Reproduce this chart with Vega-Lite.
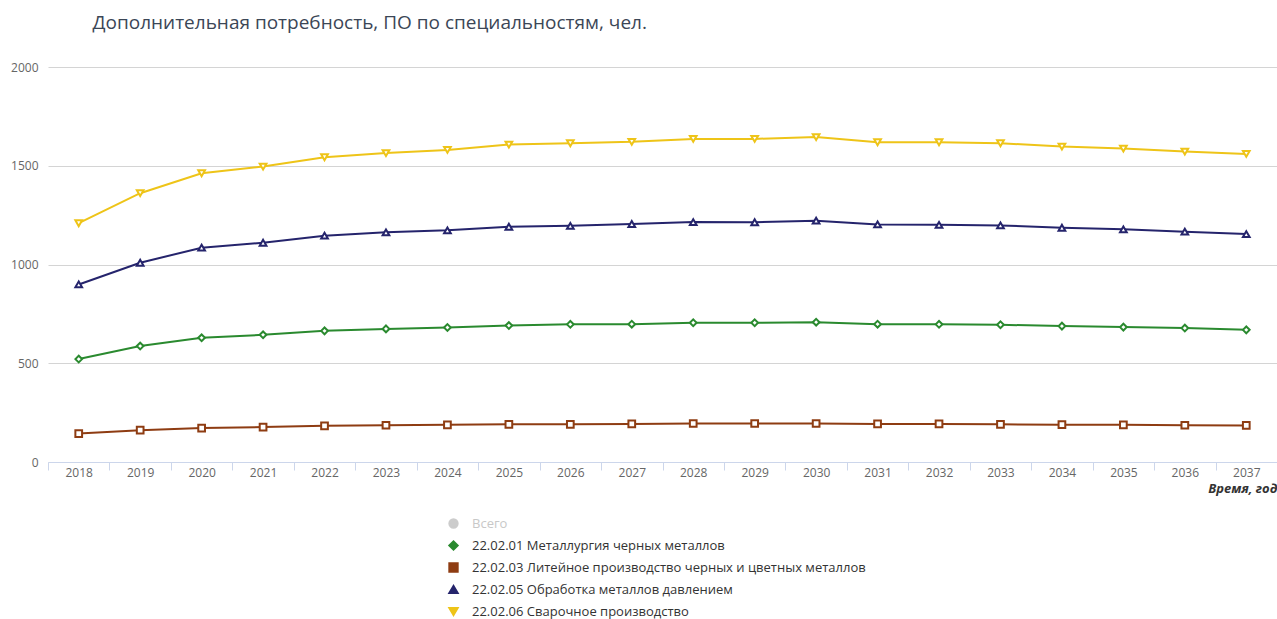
{
  "$schema": "https://vega.github.io/schema/vega-lite/v6.json",
  "autosize": "none",
  "width": 1229,
  "height": 395,
  "padding": {"left": 48, "right": 0, "top": 67, "bottom": 157},
  "background": "white",
  "config": {"view": {"stroke": null}, "font": "Open Sans"},
  "title": {
    "text": "Дополнительная потребность, ПО по специальностям, чел.",
    "anchor": "start",
    "dx": 82,
    "offset": 28,
    "fontSize": 19,
    "fontWeight": "normal",
    "color": "#3b4656",
    "font": "Open Sans"
  },
  "data": {
    "values": [
      {"year": "2018", "series": "22.02.01 Металлургия черных металлов", "value": 521},
      {"year": "2019", "series": "22.02.01 Металлургия черных металлов", "value": 587},
      {"year": "2020", "series": "22.02.01 Металлургия черных металлов", "value": 629},
      {"year": "2021", "series": "22.02.01 Металлургия черных металлов", "value": 644},
      {"year": "2022", "series": "22.02.01 Металлургия черных металлов", "value": 664},
      {"year": "2023", "series": "22.02.01 Металлургия черных металлов", "value": 674},
      {"year": "2024", "series": "22.02.01 Металлургия черных металлов", "value": 681},
      {"year": "2025", "series": "22.02.01 Металлургия черных металлов", "value": 691},
      {"year": "2026", "series": "22.02.01 Металлургия черных металлов", "value": 697},
      {"year": "2027", "series": "22.02.01 Металлургия черных металлов", "value": 698},
      {"year": "2028", "series": "22.02.01 Металлургия черных металлов", "value": 705},
      {"year": "2029", "series": "22.02.01 Металлургия черных металлов", "value": 705},
      {"year": "2030", "series": "22.02.01 Металлургия черных металлов", "value": 708},
      {"year": "2031", "series": "22.02.01 Металлургия черных металлов", "value": 698},
      {"year": "2032", "series": "22.02.01 Металлургия черных металлов", "value": 697},
      {"year": "2033", "series": "22.02.01 Металлургия черных металлов", "value": 695},
      {"year": "2034", "series": "22.02.01 Металлургия черных металлов", "value": 688},
      {"year": "2035", "series": "22.02.01 Металлургия черных металлов", "value": 683},
      {"year": "2036", "series": "22.02.01 Металлургия черных металлов", "value": 678},
      {"year": "2037", "series": "22.02.01 Металлургия черных металлов", "value": 669},
      {"year": "2018", "series": "22.02.03 Литейное производство черных и цветных металлов", "value": 144},
      {"year": "2019", "series": "22.02.03 Литейное производство черных и цветных металлов", "value": 161},
      {"year": "2020", "series": "22.02.03 Литейное производство черных и цветных металлов", "value": 172},
      {"year": "2021", "series": "22.02.03 Литейное производство черных и цветных металлов", "value": 177},
      {"year": "2022", "series": "22.02.03 Литейное производство черных и цветных металлов", "value": 183},
      {"year": "2023", "series": "22.02.03 Литейное производство черных и цветных металлов", "value": 186},
      {"year": "2024", "series": "22.02.03 Литейное производство черных и цветных металлов", "value": 188},
      {"year": "2025", "series": "22.02.03 Литейное производство черных и цветных металлов", "value": 191},
      {"year": "2026", "series": "22.02.03 Литейное производство черных и цветных металлов", "value": 191},
      {"year": "2027", "series": "22.02.03 Литейное производство черных и цветных металлов", "value": 193},
      {"year": "2028", "series": "22.02.03 Литейное производство черных и цветных металлов", "value": 195},
      {"year": "2029", "series": "22.02.03 Литейное производство черных и цветных металлов", "value": 195},
      {"year": "2030", "series": "22.02.03 Литейное производство черных и цветных металлов", "value": 195},
      {"year": "2031", "series": "22.02.03 Литейное производство черных и цветных металлов", "value": 193},
      {"year": "2032", "series": "22.02.03 Литейное производство черных и цветных металлов", "value": 193},
      {"year": "2033", "series": "22.02.03 Литейное производство черных и цветных металлов", "value": 191},
      {"year": "2034", "series": "22.02.03 Литейное производство черных и цветных металлов", "value": 189},
      {"year": "2035", "series": "22.02.03 Литейное производство черных и цветных металлов", "value": 188},
      {"year": "2036", "series": "22.02.03 Литейное производство черных и цветных металлов", "value": 186},
      {"year": "2037", "series": "22.02.03 Литейное производство черных и цветных металлов", "value": 185},
      {"year": "2018", "series": "22.02.05 Обработка металлов давлением", "value": 899},
      {"year": "2019", "series": "22.02.05 Обработка металлов давлением", "value": 1009},
      {"year": "2020", "series": "22.02.05 Обработка металлов давлением", "value": 1085},
      {"year": "2021", "series": "22.02.05 Обработка металлов давлением", "value": 1110},
      {"year": "2022", "series": "22.02.05 Обработка металлов давлением", "value": 1146},
      {"year": "2023", "series": "22.02.05 Обработка металлов давлением", "value": 1163},
      {"year": "2024", "series": "22.02.05 Обработка металлов давлением", "value": 1173},
      {"year": "2025", "series": "22.02.05 Обработка металлов давлением", "value": 1191},
      {"year": "2026", "series": "22.02.05 Обработка металлов давлением", "value": 1196},
      {"year": "2027", "series": "22.02.05 Обработка металлов давлением", "value": 1205},
      {"year": "2028", "series": "22.02.05 Обработка металлов давлением", "value": 1215},
      {"year": "2029", "series": "22.02.05 Обработка металлов давлением", "value": 1214},
      {"year": "2030", "series": "22.02.05 Обработка металлов давлением", "value": 1222},
      {"year": "2031", "series": "22.02.05 Обработка металлов давлением", "value": 1203},
      {"year": "2032", "series": "22.02.05 Обработка металлов давлением", "value": 1201},
      {"year": "2033", "series": "22.02.05 Обработка металлов давлением", "value": 1198},
      {"year": "2034", "series": "22.02.05 Обработка металлов давлением", "value": 1186},
      {"year": "2035", "series": "22.02.05 Обработка металлов давлением", "value": 1178},
      {"year": "2036", "series": "22.02.05 Обработка металлов давлением", "value": 1166},
      {"year": "2037", "series": "22.02.05 Обработка металлов давлением", "value": 1154},
      {"year": "2018", "series": "22.02.06 Сварочное производство", "value": 1209},
      {"year": "2019", "series": "22.02.06 Сварочное производство", "value": 1361},
      {"year": "2020", "series": "22.02.06 Сварочное производство", "value": 1462},
      {"year": "2021", "series": "22.02.06 Сварочное производство", "value": 1496},
      {"year": "2022", "series": "22.02.06 Сварочное производство", "value": 1543},
      {"year": "2023", "series": "22.02.06 Сварочное производство", "value": 1564},
      {"year": "2024", "series": "22.02.06 Сварочное производство", "value": 1580},
      {"year": "2025", "series": "22.02.06 Сварочное производство", "value": 1607},
      {"year": "2026", "series": "22.02.06 Сварочное производство", "value": 1614},
      {"year": "2027", "series": "22.02.06 Сварочное производство", "value": 1621},
      {"year": "2028", "series": "22.02.06 Сварочное производство", "value": 1636},
      {"year": "2029", "series": "22.02.06 Сварочное производство", "value": 1636},
      {"year": "2030", "series": "22.02.06 Сварочное производство", "value": 1645},
      {"year": "2031", "series": "22.02.06 Сварочное производство", "value": 1619},
      {"year": "2032", "series": "22.02.06 Сварочное производство", "value": 1619},
      {"year": "2033", "series": "22.02.06 Сварочное производство", "value": 1614},
      {"year": "2034", "series": "22.02.06 Сварочное производство", "value": 1597},
      {"year": "2035", "series": "22.02.06 Сварочное производство", "value": 1587},
      {"year": "2036", "series": "22.02.06 Сварочное производство", "value": 1572},
      {"year": "2037", "series": "22.02.06 Сварочное производство", "value": 1560}
    ]
  },
  "encoding": {
    "x": {
      "field": "year",
      "type": "ordinal",
      "bandPosition": 0.5,
      "scale": {"type": "band", "paddingInner": 0, "paddingOuter": 0},
      "axis": {
        "title": "Время, год",
        "titleAnchor": "end",
        "titleFontSize": 13,
        "titleFontStyle": "italic",
        "titleFontWeight": "bold",
        "titleColor": "#333333",
        "titlePadding": 4,
        "labelAngle": 0,
        "labelFontSize": 12,
        "labelColor": "#666666",
        "labelPadding": -3,
        "tickBand": "extent",
        "tickSize": 8,
        "tickColor": "#ccd6eb",
        "domainColor": "#ccd6eb",
        "grid": false
      }
    },
    "y": {
      "field": "value",
      "type": "quantitative",
      "scale": {"domain": [0, 2000]},
      "axis": {
        "title": null,
        "values": [0, 500, 1000, 1500, 2000],
        "format": "d",
        "labelFontSize": 12,
        "labelColor": "#666666",
        "labelPadding": 10,
        "ticks": false,
        "domain": false,
        "gridColor": "#d4d4d4",
        "gridWidth": 1.2
      }
    },
    "color": {
      "field": "series",
      "type": "nominal",
      "scale": {
        "domain": ["Всего", "22.02.01 Металлургия черных металлов", "22.02.03 Литейное производство черных и цветных металлов", "22.02.05 Обработка металлов давлением", "22.02.06 Сварочное производство"],
        "range": ["#cccccc", "#2a8a2f", "#8e3c12", "#25246c", "#eec418"]
      },
      "legend": {
        "title": null,
        "orient": "none",
        "legendX": 399,
        "legendY": 450,
        "labelFontSize": 13,
        "labelFont": "Open Sans",
        "labelLimit": 0,
        "rowPadding": 5,
        "symbolSize": 70,
        "symbolStrokeWidth": 2,
        "labelOffset": 12,
        "encode": {
          "labels": {"update": {"fill": {"signal": "datum.label == 'Всего' ? '#c8c8c8' : '#333333'"}}},
          "symbols": {"update": {
            "fill": {"signal": "scale('color', datum.value)"},
            "stroke": {"signal": "scale('color', datum.value)"},
            "strokeWidth": {"value": 2}
          }}
        }
      }
    }
  },
  "layer": [
    {
      "mark": {"type": "line", "strokeWidth": 2}
    },
    {
      "mark": {"type": "point", "filled": false, "fill": "white", "fillOpacity": 1, "opacity": 1, "strokeWidth": 2, "size": 45},
      "encoding": {
        "shape": {
          "field": "series",
          "type": "nominal",
          "scale": {
            "domain": ["Всего", "22.02.01 Металлургия черных металлов", "22.02.03 Литейное производство черных и цветных металлов", "22.02.05 Обработка металлов давлением", "22.02.06 Сварочное производство"],
            "range": ["circle", "diamond", "square", "triangle-up", "triangle-down"]
          },
          "legend": null
        }
      }
    }
  ]
}
